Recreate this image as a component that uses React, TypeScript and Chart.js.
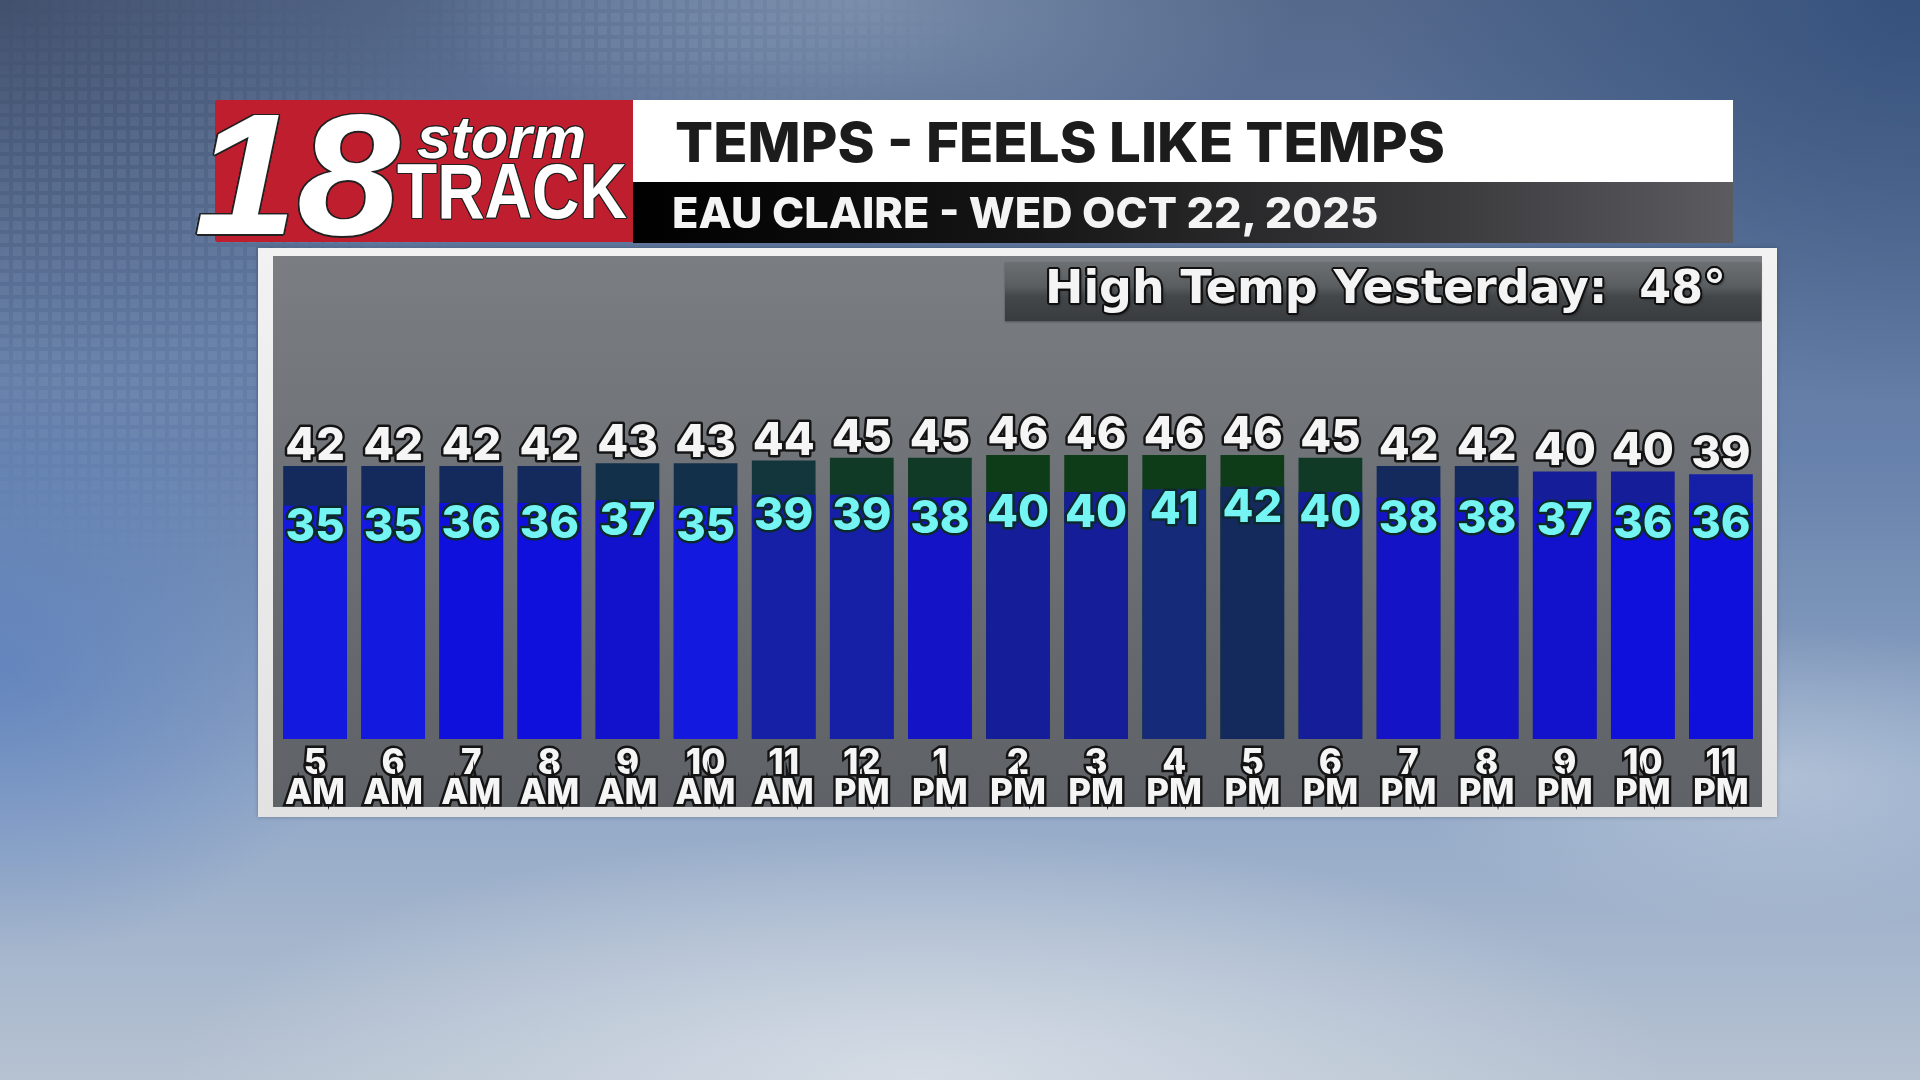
import React, { useEffect, useRef } from 'react';
import { Chart, registerables } from 'chart.js';

Chart.register(...registerables);

// ---------- data ----------
const hourLabels = ['5', '6', '7', '8', '9', '10', '11', '12', '1', '2', '3', '4', '5', '6', '7', '8', '9', '10', '11'];
const periodLabels = ['AM', 'AM', 'AM', 'AM', 'AM', 'AM', 'AM', 'PM', 'PM', 'PM', 'PM', 'PM', 'PM', 'PM', 'PM', 'PM', 'PM', 'PM', 'PM'];
const temps = [42, 42, 42, 42, 43, 43, 44, 45, 45, 46, 46, 46, 46, 45, 42, 42, 40, 40, 39];
const feelsLike = [35, 35, 36, 36, 37, 35, 39, 39, 38, 40, 40, 41, 42, 40, 38, 38, 37, 36, 36];

const titleText = 'TEMPS - FEELS LIKE TEMPS';
const subtitleText = 'EAU CLAIRE - WED OCT 22, 2025';
const highTempText = 'High Temp Yesterday:  48°';

// colour ramp by temperature value
const rampValues = [35, 36, 37, 38, 39, 40, 41, 42, 43, 44, 45, 46];
const rampColors = ['#1419e0', '#1010dc', '#1212cc', '#1414c6', '#1520a6', '#151e98', '#152a78', '#14295c', '#13304a', '#12363b', '#113a26', '#0f3c18'];
function colorFor(v: number): string {
  const i = rampValues.indexOf(v);
  if (i >= 0) return rampColors[i];
  return v < rampValues[0] ? rampColors[0] : rampColors[rampColors.length - 1];
}

// value-axis bounds (hidden axes)
const TEMP_MIN = -58.4;
const TEMP_MAX = 92.0;
const FEELS_MIN = -50.8;
const FEELS_MAX = 99.6;

const NUM_FONT = '800 45px Inter';

let measureCtx: CanvasRenderingContext2D | null = null;
function getCtx() {
  if (!measureCtx) measureCtx = document.createElement('canvas').getContext('2d');
  return measureCtx!;
}

type FitProps = {
  text: string; x: number; baseline: number; width?: number; size: number; family: string;
  weight?: number | string; italic?: boolean; color: string; shadow?: string;
};
function FitText({ text, x, baseline, width, size, family, weight = 700, italic = false, color, shadow }: FitProps) {
  const font = `${italic ? 'italic' : 'normal'} ${weight} ${size}px ${family}`;
  const ctx = getCtx();
  ctx.font = font;
  const m = ctx.measureText(text);
  const sx = width ? width / m.width : 1;
  const A = m.fontBoundingBoxAscent || size * 0.9;
  const D = m.fontBoundingBoxDescent || size * 0.25;
  const L = Math.round(size * 1.4);
  const top = baseline - ((L - (A + D)) / 2 + A);
  return (
    <div
      style={{
        position: 'absolute', left: x, top, font, lineHeight: L + 'px', whiteSpace: 'pre', color,
        transform: `scaleX(${sx})`, transformOrigin: '0 0', textShadow: shadow,
      }}
    >
      {text}
    </div>
  );
}

function outline(w: number, c: string, extra = '') {
  const s: string[] = [];
  for (let a = 0; a < 16; a++) {
    const t = (a / 16) * Math.PI * 2;
    s.push(`${(Math.cos(t) * w).toFixed(2)}px ${(Math.sin(t) * w).toFixed(2)}px 0 ${c}`);
  }
  if (extra) s.push(extra);
  return s.join(', ');
}

const valueLabels = {
  id: 'valueLabels',
  afterDatasetsDraw(chart: any) {
    const ctx = chart.ctx as CanvasRenderingContext2D;
    ctx.save();
    ctx.font = NUM_FONT;
    ctx.textAlign = 'center';
    ctx.textBaseline = 'alphabetic';
    ctx.lineJoin = 'round';
    const tMeta = chart.getDatasetMeta(0);
    tMeta.data.forEach((bar: any, i: number) => {
      const y = bar.y - 6;
      ctx.lineWidth = 5;
      ctx.strokeStyle = '#141414';
      ctx.strokeText(String(temps[i]), bar.x, y);
      ctx.fillStyle = '#f5f5f5';
      ctx.fillText(String(temps[i]), bar.x, y);
    });
    const fMeta = chart.getDatasetMeta(1);
    fMeta.data.forEach((bar: any, i: number) => {
      const y = bar.y + 35;
      ctx.lineWidth = 5;
      ctx.strokeStyle = '#0c2a2c';
      ctx.strokeText(String(feelsLike[i]), bar.x, y);
      ctx.fillStyle = '#74f4f2';
      ctx.fillText(String(feelsLike[i]), bar.x, y);
    });
    ctx.restore();
  },
};

function TempChart() {
  const ref = useRef<HTMLCanvasElement>(null);
  useEffect(() => {
    if (!ref.current) return;
    const chart = new Chart(ref.current, {
      type: 'bar',
      data: {
        labels: hourLabels.map((h, i) => [h, periodLabels[i]]),
        datasets: [
          {
            label: 'Temperature',
            data: temps,
            yAxisID: 'y',
            backgroundColor: temps.map(colorFor),
            order: 2,
            grouped: false,
            base: TEMP_MIN,
            barPercentage: 0.816,
            categoryPercentage: 1,
            borderWidth: 0,
          } as any,
          {
            label: 'Feels Like',
            data: feelsLike,
            yAxisID: 'yF',
            backgroundColor: feelsLike.map(colorFor),
            order: 1,
            grouped: false,
            base: FEELS_MIN,
            barPercentage: 0.816,
            categoryPercentage: 1,
            borderWidth: 0,
          } as any,
        ],
      },
      options: {
        responsive: false,
        animation: false,
        devicePixelRatio: 1,
        layout: { padding: { left: 276, right: 160, top: 330, bottom: 261 } },
        plugins: { legend: { display: false }, tooltip: { enabled: false } },
        scales: {
          x: {
            grid: { display: false, drawTicks: false },
            border: { display: false },
            afterFit: (s: any) => { s.height = 80; },
            ticks: {
              color: '#f5f5f5',
              font: { family: 'Inter', weight: 800 as any, size: 35, lineHeight: 30 / 35 },
              padding: 9,
              textStrokeColor: '#141414',
              textStrokeWidth: 5,
              autoSkip: false,
              maxRotation: 0,
            },
          },
          y: { display: false, min: TEMP_MIN, max: TEMP_MAX },
          yF: { display: false, min: FEELS_MIN, max: FEELS_MAX, position: 'right' },
        },
      },
      plugins: [valueLabels],
    });
    return () => chart.destroy();
  }, []);
  return <canvas ref={ref} width={1920} height={1080} style={{ position: 'absolute', left: 0, top: 0, width: 1920, height: 1080 }} />;
}

export default function App() {
  const bg = [
    'radial-gradient(ellipse 1000px 330px at 48% 100%, rgba(214,221,230,0.95), rgba(214,221,230,0) 75%)',
    'radial-gradient(ellipse 520px 200px at 93% 72%, rgba(200,212,226,0.55), rgba(200,212,226,0) 75%)',
    'radial-gradient(ellipse 800px 560px at 100% 0%, rgba(48,78,122,0.85), rgba(48,78,122,0) 72%)',
    'radial-gradient(ellipse 700px 520px at 0% 0%, rgba(62,76,104,0.85), rgba(62,76,104,0) 72%)',
    'radial-gradient(ellipse 600px 260px at 45% 0%, rgba(150,168,192,0.55), rgba(150,168,192,0) 72%)',
    'radial-gradient(ellipse 500px 400px at 0% 62%, rgba(80,120,190,0.6), rgba(80,120,190,0) 72%)',
    'linear-gradient(180deg, #55698c 0%, #6681ab 42%, #93a9c8 74%, #b6c2d1 100%)',
  ].join(', ');

  const panelLeft = 258, panelTop = 248, panelRight = 1777, panelBottom = 817;

  return (
    <div style={{ position: 'fixed', left: 0, top: 0, width: 1920, height: 1080, overflow: 'hidden', background: bg }}>
      {/* grid texture */}
      <div
        style={{
          position: 'absolute', left: 0, top: 0, width: 1100, height: 620,
          WebkitMaskImage: 'radial-gradient(ellipse 520px 420px at 15% 45%, #000 30%, transparent 75%), radial-gradient(ellipse 420px 120px at 62% 5%, #000 20%, transparent 75%)',
          maskImage: 'radial-gradient(ellipse 520px 420px at 15% 45%, #000 30%, transparent 75%), radial-gradient(ellipse 420px 120px at 62% 5%, #000 20%, transparent 75%)',
        }}
      >
        <div
          style={{
            position: 'absolute', inset: 0,
            backgroundImage: 'repeating-linear-gradient(90deg, rgba(185,205,235,0.10) 0 9px, transparent 9px 13px)',
            WebkitMaskImage: 'repeating-linear-gradient(0deg, #000 0 9px, transparent 9px 13px)',
            maskImage: 'repeating-linear-gradient(0deg, #000 0 9px, transparent 9px 13px)',
          }}
        />
      </div>

      {/* header: red logo box */}
      <div style={{ position: 'absolute', left: 215, top: 100, width: 418, height: 142, background: '#be1e2d', borderRadius: '3px 0 0 3px' }} />
      {/* white title bar */}
      <div style={{ position: 'absolute', left: 633, top: 100, width: 1100, height: 82, background: '#ffffff' }} />
      {/* dark subtitle bar */}
      <div style={{ position: 'absolute', left: 633, top: 182, width: 1100, height: 61, background: 'linear-gradient(90deg, #000000 0%, #151515 35%, #3c3c3f 75%, #5c5c60 100%)' }} />

      <FitText text="18" x={194} baseline={234} width={206} size={172} family='"Liberation Sans", Arial, sans-serif' weight={700} italic color="#ffffff" shadow={outline(1.5, '#222')} />
      <FitText text="storm" x={417} baseline={158} width={169} size={60} family='"Liberation Sans", Arial, sans-serif' weight={700} italic color="#ffffff" shadow={outline(1.2, '#222')} />
      <FitText text="TRACK" x={397} baseline={218} width={230} size={77} family='"Liberation Sans", Arial, sans-serif' weight={700} color="#ffffff" shadow={outline(1.2, '#222')} />

      <FitText text={titleText} x={675} baseline={162} width={770} size={55} family='Inter, "Noto Sans", sans-serif' weight={800} color="#1c1c1c" />
      <FitText text={subtitleText} x={672} baseline={228} width={708} size={43} family='Inter, "Noto Sans", sans-serif' weight={800} color="#f4f4f4" />

      {/* panel */}
      <div style={{ position: 'absolute', left: panelLeft, top: panelTop, width: panelRight - panelLeft, height: panelBottom - panelTop, background: 'linear-gradient(180deg, #f2f2f2 0%, #e2e2e2 100%)', boxShadow: '0 0 4px rgba(0,0,0,0.25)' }} />
      <div style={{ position: 'absolute', left: 273, top: 256, width: 1762 - 273, height: 807 - 256, background: 'linear-gradient(180deg, #7a7e83 0%, #6f7378 40%, #64686d 75%, #5f6368 100%)' }} />

      {/* high temp yesterday box */}
      <div style={{ position: 'absolute', left: 1005, top: 262, width: 756, height: 59, background: 'linear-gradient(180deg, #6c7073 0%, #595d60 42%, #43474a 58%, #393c3f 100%)', boxShadow: '0 1px 2px rgba(0,0,0,0.35)' }} />
      <FitText text={highTempText} x={1045} baseline={303} width={681} size={47} family='"DejaVu Sans", sans-serif' weight={700} color="#f4f4f4" shadow={outline(2, '#111', '2px 2px 3px rgba(0,0,0,0.5)')} />

      <TempChart />
    </div>
  );
}
